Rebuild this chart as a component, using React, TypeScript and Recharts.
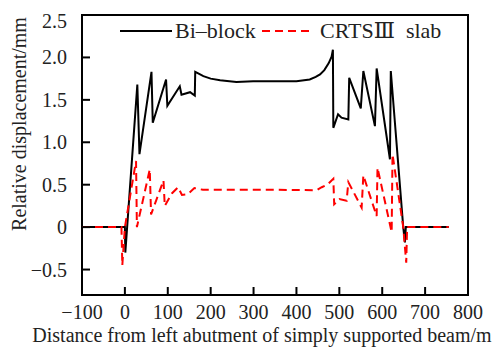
import { LineChart, Line, XAxis, YAxis, ReferenceArea, Legend } from "recharts";

const xTicks = [-100, 0, 100, 200, 300, 400, 500, 600, 700, 800];
const yTicks = [-0.5, 0, 0.5, 1.0, 1.5, 2.0, 2.5];
const seriesNames = ["Bi\u2013block", "CRTS\u2162\u00a0 slab"];

// Bi-block relative displacement (mm)
const blockX = [-100, 0, 1, 29, 34, 62, 65, 96, 99, 128, 132, 152, 163, 164, 172, 183, 200, 222, 260, 299, 350, 400, 431, 445, 455, 465, 475, 482, 485, 486, 497, 505, 521, 523, 550, 556, 583, 587, 618, 620, 649, 653, 655, 755];
const blockY = [0, 0, -0.3, 1.68, 0.86, 1.83, 1.23, 1.74, 1.43, 1.66, 1.56, 1.59, 1.55, 1.83, 1.81, 1.78, 1.75, 1.73, 1.71, 1.72, 1.72, 1.72, 1.74, 1.77, 1.8, 1.85, 1.93, 2.01, 2.09, 1.17, 1.33, 1.29, 1.27, 1.76, 1.4, 1.84, 1.19, 1.87, 0.8, 1.84, 0, -0.18, 0, 0];

// CRTS III slab relative displacement (mm)
const slabX = [-100, -8, -6, 0, 26, 28, 58, 61, 90, 93, 110, 124, 133, 147, 162, 182, 250, 350, 447, 459, 472, 486, 488, 500, 517, 521, 552, 556, 587, 589, 622, 624, 649, 656, 658, 755];
const slabY = [0, 0, -0.45, 0, 0.78, 0.0, 0.68, 0.15, 0.55, 0.25, 0.4, 0.47, 0.38, 0.39, 0.46, 0.44, 0.44, 0.44, 0.435, 0.47, 0.5, 0.57, 0.27, 0.33, 0.31, 0.53, 0.23, 0.61, 0.13, 0.7, -0.06, 0.86, 0, -0.42, 0, 0];

const blockData = blockX.map((x, i) => ({ x, y: blockY[i] }));
const slabData = slabX.map((x, i) => ({ x, y: slabY[i] }));

const FONT = "'Liberation Serif', 'DejaVu Serif', serif";
const TEXT = "#222";
const textStyle = { fontFamily: FONT };

const fmt = (v: number, digits: number) =>
  v === 0 ? "0" : v.toFixed(digits).replace("-", "\u2212");

const XTick = ({ x, y, payload }: any) => (
  <g>
    <line x1={x} y1={y} x2={x} y2={y - 8} stroke="#000" strokeWidth={2} />
    <text x={x} y={y + 24} textAnchor="middle" style={textStyle} fontSize={20} fill={TEXT}>
      {fmt(payload.value, 0)}
    </text>
  </g>
);

const YTick = ({ x, y, payload }: any) => (
  <g>
    <line x1={x} y1={y} x2={x + 8} y2={y} stroke="#000" strokeWidth={2} />
    <text
      x={x - 15}
      y={y + (payload.value === 2.5 ? 13 : 7)}
      textAnchor="end"
      style={textStyle}
      fontSize={20}
      fill={TEXT}
    >
      {fmt(payload.value, 1)}
    </text>
  </g>
);

const XTitle = ({ viewBox }: any) => (
  <text
    x={viewBox.x + viewBox.width / 2 - 13}
    y={viewBox.y + 47}
    textAnchor="middle"
    style={textStyle}
    fontSize={20}
    fill={TEXT}
  >
    Distance from left abutment of simply supported beam/m
  </text>
);

const YTitle = ({ viewBox }: any) => {
  const cx = 26;
  const cy = viewBox.y + viewBox.height / 2 - 31;
  return (
    <text
      x={cx}
      y={cy}
      transform={`rotate(-90, ${cx}, ${cy})`}
      textAnchor="middle"
      style={textStyle}
      fontSize={20}
      fill={TEXT}
    >
      Relative displacement/mm
    </text>
  );
};

const LegendContent = () => (
  <svg width={340} height={28} style={{ display: "block" }}>
    <line x1={2} y1={13} x2={54} y2={13} stroke="#000" strokeWidth={2} />
    <text x={57} y={20} style={textStyle} fontSize={22} fill={TEXT}>
      {seriesNames[0]}
    </text>
    <line x1={144} y1={13} x2={195} y2={13} stroke="#ff0000" strokeWidth={2} strokeDasharray="8 5" />
    <text x={202} y={20} style={{ ...textStyle, whiteSpace: "pre" }} fontSize={22} fill={TEXT}>
      {seriesNames[1]}
    </text>
  </svg>
);

export default function App() {
  return (
    <div style={{ position: "absolute", left: 0, top: 0, width: 504, height: 347, background: "#fff", fontFamily: FONT }}>
      <LineChart width={504} height={347} margin={{ top: 15, right: 36, bottom: 0, left: 0 }}>
        <XAxis
          type="number"
          dataKey="x"
          domain={[-100, 800]}
          ticks={xTicks}
          allowDataOverflow
          height={52}
          tickSize={0}
          tickMargin={0}
          tickLine={false}
          axisLine={false}
          tick={<XTick />}
          interval={0}
          label={{ content: <XTitle /> }}
        />
        <YAxis
          type="number"
          domain={[-0.8, 2.5]}
          ticks={yTicks}
          allowDataOverflow
          width={82}
          tickSize={0}
          tickMargin={0}
          tickLine={false}
          axisLine={false}
          tick={<YTick />}
          interval={0}
          label={{ content: <YTitle /> }}
        />
        <ReferenceArea x1={-100} x2={800} y1={-0.8} y2={2.5} fill="none" stroke="#000" strokeWidth={2} />
        <Line
          data={blockData}
          dataKey="y"
          type="linear"
          stroke="#000"
          strokeWidth={2}
          dot={false}
          isAnimationActive={false}
          name={seriesNames[0]}
        />
        <Line
          data={slabData}
          dataKey="y"
          type="linear"
          stroke="#ff0000"
          strokeWidth={2}
          strokeDasharray="8 5"
          dot={false}
          isAnimationActive={false}
          name={seriesNames[1]}
        />
        <Legend
          layout="vertical"
          align="center"
          verticalAlign="middle"
          wrapperStyle={{ top: 18, left: 118, width: 340, height: 28 }}
          content={<LegendContent />}
        />
      </LineChart>
    </div>
  );
}
